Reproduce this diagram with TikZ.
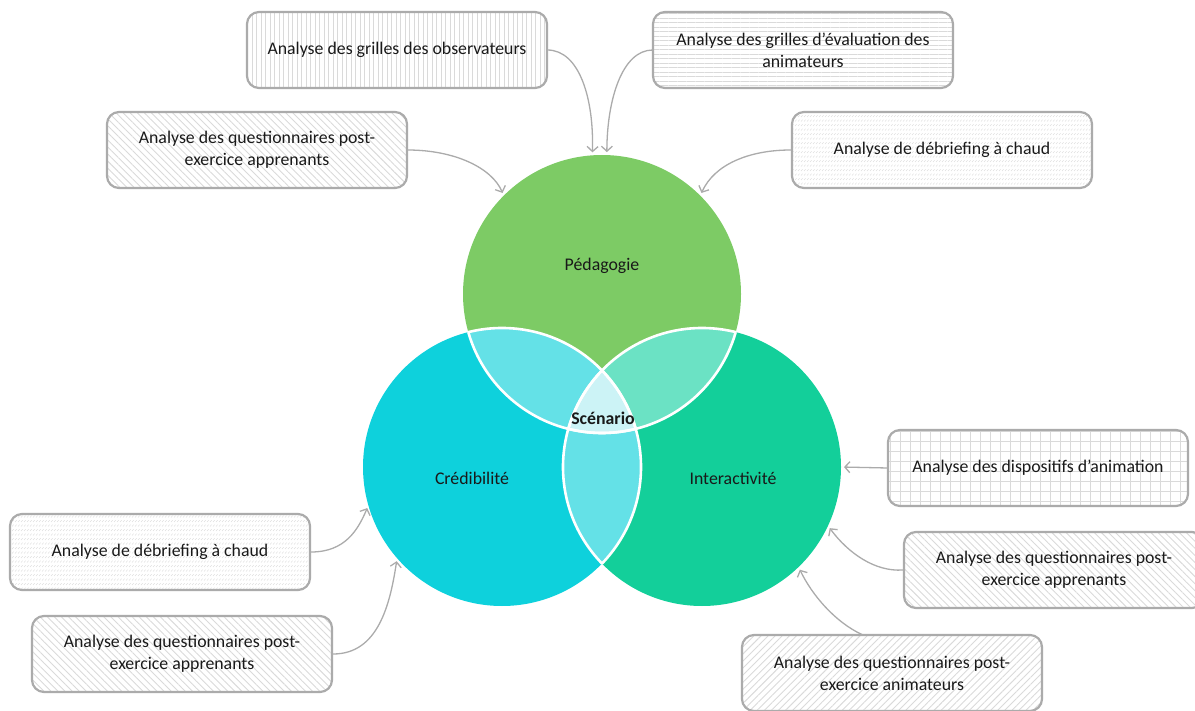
\documentclass[tikz,border=0pt]{standalone}
\usepackage{fontspec}
\setmainfont{Carlito}
\usetikzlibrary{arrows.meta,patterns.meta}
\definecolor{pedgreen}{HTML}{7DCB65}
\definecolor{credcyan}{HTML}{0ED1DC}
\definecolor{interteal}{HTML}{13CF9A}
\definecolor{lenscyan}{HTML}{64E1E7}
\definecolor{lensteal}{HTML}{6BE2C4}
\definecolor{lenscore}{HTML}{CCF3F6}
\definecolor{boxgray}{HTML}{ABABAB}
\definecolor{patgray}{HTML}{DADADA}
\definecolor{conngray}{HTML}{ABABAB}
\tikzdeclarepattern{
  name=dashdiag,
  type=uncolored,
  bounding box={(-0.5pt,-0.5pt) and (3.5pt,5pt)},
  tile size={(3pt,4.5pt)},
  code={\draw[line width=0.45pt] (0pt,0pt) -- (1.6pt,1.8pt);}
}
\begin{document}
\begin{tikzpicture}[x=1pt, y=-1pt,
  txt/.style={font=\fontsize{17.8}{22}\selectfont, text=black!90, align=center},
  infobox/.style={txt, draw=boxgray, line width=2.2pt, rounded corners=12pt,
    minimum width=300pt, minimum height=76pt, inner sep=0pt, pattern color=patgray},
  venn/.style={circle, minimum size=278pt, inner sep=0pt, outer sep=0pt},
  conn/.style={draw=conngray, line width=1.3pt, shorten >=3pt,
    -{Straight Barb[length=5pt,width=11pt,line width=1.3pt]}}]
  \useasboundingbox (0,0) rectangle (1195,711);
  % Circle centres
  \coordinate (cP) at (602,294);
  \coordinate (cC) at (502,467);
  \coordinate (cI) at (702,467);
  % The three circles
  \node[venn, fill=pedgreen] (ped) at (cP) {};
  \node[venn, fill=credcyan] (cred) at (cC) {};
  \node[venn, fill=interteal] (inter) at (cI) {};
  % Overlaps
  \begin{scope}
    \clip (cP) circle (139);
    \fill[lenscyan] (cC) circle (139);
  \end{scope}
  \begin{scope}
    \clip (cP) circle (139);
    \fill[lensteal] (cI) circle (139);
  \end{scope}
  \begin{scope}
    \clip (cC) circle (139);
    \fill[lenscyan] (cI) circle (139);
  \end{scope}
  \begin{scope}
    \clip (cP) circle (139);
    \clip (cC) circle (139);
    \fill[lenscore] (cI) circle (139);
  \end{scope}
  % White edges inside the overlaps
  \foreach \a/\b in {cP/cC, cP/cI, cC/cP, cC/cI, cI/cP, cI/cC} {
    \begin{scope}
      \clip (\b) circle (139);
      \draw[white, line width=2.6pt] (\a) circle (139);
    \end{scope}
  }
  % Circle labels
  \node[txt] (pedlabel) at (602,266) {Pédagogie};
  \node[txt] (credlabel) at (472,478) {Crédibilité};
  \node[txt] (interlabel) at (733,478) {Interactivité};
  \node[txt, font=\fontsize{17.8}{22}\selectfont\bfseries] (scen) at (603,418) {Scénario};
  % Boxes around Pedagogie
  \node[infobox, pattern={Lines[angle=90,distance=4.5pt,line width=0.5pt]}] (obs) at (397,50)
    {Analyse des grilles des observateurs};
  \node[infobox, pattern={Lines[angle=0,distance=4.5pt,line width=0.5pt]}] (evalanim) at (803,50)
    {Analyse des grilles d’évaluation des\\animateurs};
  \node[infobox, pattern={Lines[angle=-45,distance=5pt,line width=0.9pt]}] (qapp1) at (257,150)
    {Analyse des questionnaires post-\\exercice apprenants};
  \node[infobox, pattern=dashdiag] (debrief1) at (942,150)
    {Analyse de débriefing à chaud};
  % Boxes around Interactivite
  \node[infobox, pattern={Hatch[angle=0,distance=10pt,line width=0.6pt]}] (dispo) at (1038,468)
    {Analyse des dispositifs d’animation};
  \node[infobox, pattern={Lines[angle=-45,distance=5pt,line width=0.9pt]}] (qapp2) at (1054,570)
    {Analyse des questionnaires post-\\exercice apprenants};
  \node[infobox, pattern={Lines[angle=45,distance=5pt,line width=0.9pt]}] (qanim) at (892,673)
    {Analyse des questionnaires post-\\exercice animateurs};
  % Boxes around Credibilite
  \node[infobox, pattern=dashdiag] (debrief2) at (160,552)
    {Analyse de débriefing à chaud};
  \node[infobox, pattern={Lines[angle=-45,distance=5pt,line width=0.9pt]}] (qapp3) at (182,654)
    {Analyse des questionnaires post-\\exercice apprenants};
  % Connectors
  \draw[conn] (obs.east) .. controls (580,50) and (594,100) .. (ped.94);
  \draw[conn] (evalanim.west) .. controls (622,50) and (607,100) .. (ped.88);
  \draw[conn] (qapp1.east) .. controls (455,150) and (492,168) .. (ped.135);
  \draw[conn] (debrief1.west) .. controls (748,150) and (714,165) .. (ped.45);
  \draw[conn] (dispo.west) -- (inter.0);
  \draw[conn] (qapp2.west) .. controls (875,572) and (848,553) .. (inter.-25);
  \draw[conn] (qanim.128) .. controls (835,622) and (812,595) .. (inter.-46);
  \draw[conn] (debrief2.east) .. controls (345,552) and (358,530) .. (cred.196);
  \draw[conn] (qapp3.east) .. controls (378,654) and (390,605) .. (cred.221);
\end{tikzpicture}
\end{document}
